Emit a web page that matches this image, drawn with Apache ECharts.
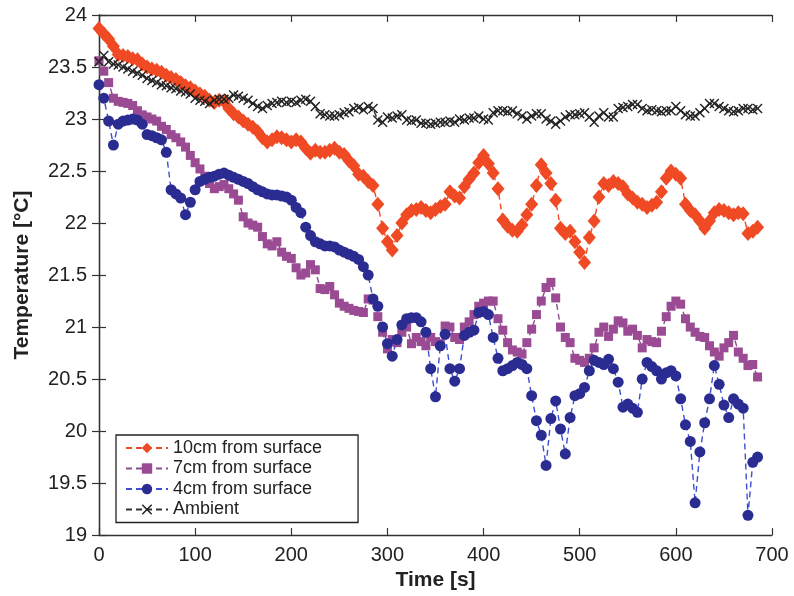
<!DOCTYPE html>
<html>
<head>
<meta charset="utf-8">
<script src="https://cdn.jsdelivr.net/npm/echarts@6/dist/echarts.min.js"></script>
<style>
  html, body { margin: 0; padding: 0; background: #fff; }
  #chart { width: 794px; height: 596px; }
</style>
</head>
<body>
<div id="chart"></div>
<script>
// Sampling instants [s]
const times = [
  0, 5, 10, 15, 20, 25, 30, 35, 40, 45, 50, 55, 60, 65, 70, 75, 80, 85, 90, 95,
  100, 105, 110, 115, 120, 125, 130, 135, 140, 145, 150, 155, 160, 165, 170, 175, 180, 185, 190, 195,
  200, 205, 210, 215, 220, 225, 230, 235, 240, 245, 250, 255, 260, 265, 270, 275, 280, 285, 290, 295,
  300, 305, 310, 315, 320, 325, 330, 335, 340, 345, 350, 355, 360, 365, 370, 375, 380, 385, 390, 395,
  400, 405, 410, 415, 420, 425, 430, 435, 440, 445, 450, 455, 460, 465, 470, 475, 480, 485, 490, 495,
  500, 505, 510, 515, 520, 525, 530, 535, 540, 545, 550, 555, 560, 565, 570, 575, 580, 585, 590, 595,
  600, 605, 610, 615, 620, 625, 630, 635, 640, 645, 650, 655, 660, 665, 670, 675, 680, 685
];

// Temperature 10 cm below the surface [°C]
const temp10cm = [
  23.87, 23.82, 23.77, 23.70, 23.62, 23.61, 23.60, 23.58, 23.57, 23.53, 23.50, 23.48, 23.47, 23.45, 23.42, 23.40, 23.38, 23.35, 23.32, 23.30,
  23.27, 23.24, 23.22, 23.18, 23.16, 23.18, 23.17, 23.10, 23.05, 23.02, 22.98, 22.95, 22.92, 22.88, 22.82, 22.78, 22.80, 22.83, 22.82, 22.80,
  22.78, 22.80, 22.78, 22.72, 22.67, 22.70, 22.68, 22.68, 22.70, 22.72, 22.68, 22.66, 22.60, 22.55, 22.47, 22.45, 22.40, 22.36, 22.18, 21.95,
  21.82, 21.74, 21.88, 22.00, 22.08, 22.12, 22.13, 22.15, 22.12, 22.10, 22.13, 22.16, 22.18, 22.30, 22.26, 22.24, 22.35, 22.42, 22.48, 22.58,
  22.65, 22.57, 22.48, 22.33, 22.03, 21.97, 21.93, 21.92, 21.98, 22.08, 22.18, 22.36, 22.56, 22.48, 22.38, 22.22, 21.95, 21.90, 21.92, 21.82,
  21.72, 21.62, 21.86, 22.02, 22.25, 22.38, 22.36, 22.40, 22.38, 22.35, 22.28, 22.24, 22.20, 22.18, 22.15, 22.17, 22.20, 22.30, 22.43, 22.50,
  22.47, 22.43, 22.18, 22.12, 22.08, 22.02, 21.95, 22.02, 22.10, 22.13, 22.12, 22.10, 22.08, 22.10, 22.09, 21.90, 21.92, 21.96
];

// Temperature 7 cm below the surface [°C]
const temp7cm = [
  23.56, 23.46, 23.35, 23.20, 23.17, 23.16, 23.15, 23.13, 23.08, 23.04, 23.02, 23.00, 22.98, 22.93, 22.90, 22.85, 22.82, 22.78, 22.73, 22.65,
  22.58, 22.52, 22.45, 22.38, 22.33, 22.35, 22.37, 22.33, 22.28, 22.22, 22.06, 22.00, 21.98, 21.96, 21.87, 21.80, 21.78, 21.82, 21.72, 21.68,
  21.66, 21.57, 21.50, 21.52, 21.60, 21.55, 21.37, 21.36, 21.39, 21.31, 21.23, 21.20, 21.18, 21.16, 21.15, 21.14, 21.27, 21.26, 21.10, 20.95,
  20.79, 20.88, 20.85, 20.95, 21.00, 20.84, 20.90, 20.86, 20.82, 20.90, 20.86, 20.84, 21.01, 21.00, 20.90, 20.88, 21.00, 21.05, 21.12, 21.20,
  21.23, 21.25, 21.25, 21.08, 20.97, 20.85, 20.78, 20.76, 20.74, 20.85, 20.98, 21.12, 21.25, 21.38, 21.43, 21.28, 21.00, 20.90, 20.85, 20.70,
  20.68, 20.66, 20.70, 20.80, 20.95, 21.00, 20.91, 20.98, 21.06, 21.04, 20.96, 20.98, 20.92, 20.80, 20.88, 20.86, 20.85, 20.96, 21.10, 21.20,
  21.25, 21.22, 21.08, 21.00, 20.95, 20.91, 20.90, 20.82, 20.76, 20.72, 20.80, 20.85, 20.92, 20.76, 20.70, 20.63, 20.64, 20.52
];

// Temperature 4 cm below the surface [°C]
const temp4cm = [
  23.33, 23.20, 22.98, 22.75, 22.95, 22.98, 22.99, 23.00, 22.99, 22.95, 22.85, 22.84, 22.82, 22.80, 22.68, 22.32, 22.28, 22.24, 22.08, 22.20,
  22.32, 22.40, 22.42, 22.44, 22.45, 22.47, 22.48, 22.46, 22.44, 22.42, 22.40, 22.38, 22.35, 22.32, 22.30, 22.28, 22.27, 22.27, 22.26, 22.25,
  22.22, 22.15, 22.10, 21.96, 21.88, 21.82, 21.80, 21.78, 21.78, 21.77, 21.74, 21.72, 21.70, 21.68, 21.65, 21.58, 21.50, 21.27, 21.20, 21.00,
  20.84, 20.72, 20.88, 21.02, 21.08, 21.09, 21.09, 21.05, 20.95, 20.60, 20.33, 20.82, 20.93, 20.60, 20.48, 20.60, 20.92, 20.95, 20.97, 21.14,
  21.15, 21.12, 20.90, 20.70, 20.58, 20.60, 20.63, 20.66, 20.64, 20.60, 20.34, 20.10, 19.96, 19.67, 20.12, 20.29, 20.02, 19.78, 20.13, 20.34,
  20.36, 20.42, 20.58, 20.68, 20.66, 20.64, 20.69, 20.60, 20.47, 20.23, 20.26, 20.22, 20.18, 20.50, 20.66, 20.62, 20.58, 20.50, 20.56, 20.58,
  20.53, 20.31, 20.06, 19.90, 19.31, 19.80, 20.08, 20.31, 20.63, 20.45, 20.25, 20.13, 20.31, 20.26, 20.22, 19.19, 19.70, 19.75
];

// Ambient air temperature [°C]
const tempAmbient = [
  23.55, 23.61, 23.55, 23.53, 23.52, 23.50, 23.48, 23.46, 23.44, 23.42, 23.39, 23.37, 23.35, 23.33, 23.32, 23.30, 23.29, 23.27, 23.26, 23.24,
  23.20, 23.18, 23.17, 23.15, 23.18, 23.19, 23.19, 23.20, 23.23, 23.22, 23.20, 23.18, 23.15, 23.12, 23.10, 23.13, 23.15, 23.16, 23.17, 23.16,
  23.17, 23.16, 23.18, 23.19, 23.17, 23.12, 23.05, 23.04, 23.03, 23.03, 23.04, 23.06, 23.07, 23.10, 23.11, 23.09, 23.12, 23.10, 22.99, 22.97,
  23.02, 23.01, 23.03, 23.04, 22.99, 22.98, 22.99, 22.96, 22.96, 22.95, 22.96, 22.97, 22.97, 22.98, 22.97, 23.00, 22.99, 23.01, 23.01, 23.03,
  23.00, 22.99, 23.06, 23.08, 23.08, 23.07, 23.08, 23.05, 23.03, 23.00, 23.03, 23.05, 23.05, 23.00, 22.98, 22.95, 22.98, 23.02, 23.04, 23.04,
  23.05, 23.06, 23.02, 22.97, 23.03, 23.06, 23.02, 23.02, 23.10, 23.11, 23.12, 23.14, 23.14, 23.10, 23.08, 23.09, 23.08, 23.07, 23.08, 23.08,
  23.12, 23.08, 23.04, 23.03, 23.03, 23.06, 23.10, 23.15, 23.15, 23.12, 23.10, 23.08, 23.07, 23.08, 23.10, 23.10, 23.09, 23.10
];

const seriesNames = ['10cm from surface', '7cm from surface', '4cm from surface', 'Ambient'];
const xTicks = { min: 0, max: 700, step: 100 };
const yTicks = { min: 19, max: 24, step: 0.5 };

const pairs = vals => times.map((t, i) => [t, vals[i]]);

const FONT = '"Liberation Sans", Arial, Helvetica, sans-serif';
const AXIS_COLOR = '#333';
const crossPath = 'path://M0,1L1,0L5,4L9,0L10,1L6,5L10,9L9,10L5,6L1,10L0,9L4,5Z';

const chart = echarts.init(document.getElementById('chart'), null, { renderer: 'canvas' });

function lineSeries(name, vals, symbol, size, fill, lineColor) {
  return {
    name: name,
    type: 'line',
    data: pairs(vals),
    symbol: symbol,
    symbolSize: size,
    showAllSymbol: true,
    animation: false,
    itemStyle: { color: fill, borderWidth: 0 },
    lineStyle: { color: lineColor, width: 1.4, type: [6, 4] },
    emphasis: { disabled: true },
    clip: false
  };
}

const baseAxisLine = { show: true, lineStyle: { color: AXIS_COLOR, width: 1.3 } };
const baseTick = { show: true, inside: true, length: 7, lineStyle: { color: AXIS_COLOR, width: 1.2 } };

chart.setOption({
  backgroundColor: '#fff',
  animation: false,
  grid: { left: 99, right: 22, top: 15, bottom: 59, containLabel: false },
  legend: {
    left: 116,
    top: 435,
    orient: 'vertical',
    data: seriesNames,
    itemWidth: 42,
    itemHeight: 13,
    itemGap: 2.5,
    padding: [4, 36, 4, 9],
    borderColor: '#222',
    borderWidth: 1.3,
    backgroundColor: '#fff',
    textStyle: { fontFamily: FONT, fontSize: 18, color: '#222' },
    selectedMode: false
  },
  xAxis: [
    {
      type: 'value',
      min: xTicks.min, max: xTicks.max, interval: xTicks.step,
      position: 'bottom',
      name: 'Time [s]',
      nameLocation: 'middle',
      nameGap: 33,
      nameTextStyle: { fontFamily: FONT, fontSize: 21, fontWeight: 'bold', color: '#222' },
      axisLine: baseAxisLine,
      axisTick: baseTick,
      splitLine: { show: false },
      axisLabel: { fontFamily: FONT, fontSize: 20, color: '#222', margin: 10 }
    },
    {
      type: 'value',
      min: xTicks.min, max: xTicks.max, interval: xTicks.step,
      position: 'top',
      axisLine: baseAxisLine,
      axisTick: baseTick,
      splitLine: { show: false },
      axisLabel: { show: false }
    }
  ],
  yAxis: [
    {
      type: 'value',
      min: yTicks.min, max: yTicks.max, interval: yTicks.step,
      position: 'left',
      name: 'Temperature [°C]',
      nameLocation: 'middle',
      nameGap: 66,
      nameRotate: 90,
      nameTextStyle: { fontFamily: FONT, fontSize: 21, fontWeight: 'bold', color: '#222' },
      axisLine: baseAxisLine,
      axisTick: baseTick,
      splitLine: { show: false },
      axisLabel: { fontFamily: FONT, fontSize: 20, color: '#222', margin: 12 }
    },
    {
      type: 'value',
      min: yTicks.min, max: yTicks.max, interval: yTicks.step,
      position: 'right',
      axisLine: baseAxisLine,
      axisTick: baseTick,
      splitLine: { show: false },
      axisLabel: { show: false }
    }
  ],
  series: [
    lineSeries(seriesNames[0], temp10cm, 'diamond', [13, 15], '#f04a24', '#f04a24'),
    lineSeries(seriesNames[1], temp7cm, 'rect', 9, '#9a4b93', '#8a4d8c'),
    lineSeries(seriesNames[2], temp4cm, 'circle', 11, '#2a2c92', '#3c4fd2'),
    lineSeries(seriesNames[3], tempAmbient, crossPath, 10, '#222', '#333')
  ]
});
</script>
</body>
</html>
